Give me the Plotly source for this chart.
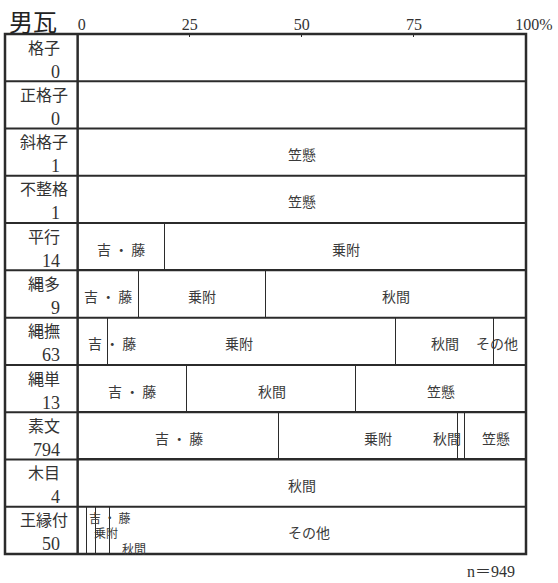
import plotly.graph_objects as go

# ---------------- data ----------------
rows = ["格子", "正格子", "斜格子", "不整格", "平行", "縄多", "縄撫", "縄単", "素文", "木目", "王縁付"]
counts = [0, 0, 1, 1, 14, 9, 63, 13, 794, 4, 50]
categories = ["吉・藤", "乗附", "秋間", "笠懸", "その他"]
yoshi_fuji = [None, None, None, None, 19.5, 13.7, 6.8, 24.4, 45.0, None, 2.1]
notsuke = [None, None, None, None, 80.5, 28.2, 64.1, None, 39.8, None, 2.1]
akima = [None, None, None, None, None, 58.1, 21.9, 37.7, 1.7, 100.0, 3.1]
kasakake = [None, None, 100.0, 100.0, None, None, None, 37.9, 13.5, None, None]
sonota = [None, None, None, None, None, None, 7.2, None, None, None, 92.7]
series = [yoshi_fuji, notsuke, akima, kasakake, sonota]
tick_vals = [0, 25, 50, 75, 100]
tick_text = ["\u20020", "25", "50", "75", "\u2003100%"]
total_n = 949
title = "男瓦"

# ---------------- layout helpers (positions/styles, not data) ----------------
display = {"吉・藤": "吉 ・ 藤", "乗附": "乗附", "秋間": "秋間", "笠懸": "笠懸", "その他": "その他"}
# label placement overrides: (row, category) -> (x in %, yshift px, font size)
label_override = {
    ("縄撫", "吉・藤"): (7.6, -2, 14),
    ("縄撫", "乗附"): (36.0, -2, 14),
    ("縄撫", "その他"): (93.5, -2, 14),
    ("素文", "乗附"): (67.0, -2, 14),
    ("素文", "秋間"): (82.3, -2, 14),
    ("王縁付", "吉・藤"): (7.0, 13, 12),
    ("王縁付", "乗附"): (6.3, -2, 12),
    ("王縁付", "秋間"): (12.6, -18, 12),
    ("王縁付", "その他"): (51.5, -2, 14),
}
LINE = "#2b2b2b"
TXT = "#3a3a3a"
SERIF = "Liberation Serif, DejaVu Serif, Noto Sans CJK JP"
CJK = "Noto Sans CJK JP"
LEFT = -16.2

fig = go.Figure()
ys = list(range(len(rows)))
for cat, vals in zip(categories, series):
    fig.add_trace(go.Bar(
        y=ys, x=vals, orientation="h", width=1, name=cat,
        marker=dict(color="white", line=dict(color=LINE, width=1.3)),
        hoverinfo="skip", showlegend=False,
    ))

annotations = []
# segment labels
for i, r in enumerate(rows):
    cum = 0.0
    for cat, vals in zip(categories, series):
        v = vals[i]
        if v is None:
            continue
        xc, ysh, fs = cum + v / 2, -2, 14
        if (r, cat) in label_override:
            xc, ysh, fs = label_override[(r, cat)]
        annotations.append(dict(x=xc, y=i, xref="x", yref="y", text=display[cat],
                                showarrow=False, yshift=ysh,
                                font=dict(family=CJK, size=fs, color=TXT)))
        cum += v
# row labels
for i, (r, c) in enumerate(zip(rows, counts)):
    annotations.append(dict(x=-7.5, y=i, xref="x", yref="y", text=r, showarrow=False,
                            yshift=11, font=dict(family=CJK, size=16, color="#333")))
    annotations.append(dict(x=-3.5, y=i, xref="x", yref="y", text=str(c), showarrow=False,
                            xanchor="right", yshift=-14,
                            font=dict(family=SERIF, size=18, color="#333")))
# title
annotations.append(dict(x=0, y=1, xref="paper", yref="paper", text=title, showarrow=False,
                        xanchor="left", yanchor="bottom", xshift=2, yshift=-4,
                        font=dict(family=SERIF, size=24, color="#222")))
# n
annotations.append(dict(x=98, y=0, xref="x", yref="paper", text=f"n＝{total_n}", showarrow=False,
                        xanchor="right", yanchor="top", yshift=-7,
                        font=dict(family=SERIF, size=16, color="#333")))

shapes = []
shapes.append(dict(type="rect", xref="paper", yref="paper", x0=0, x1=1, y0=0, y1=1,
                   line=dict(color=LINE, width=2.5)))
shapes.append(dict(type="line", xref="x", yref="paper", x0=0, x1=0, y0=0, y1=1,
                   line=dict(color=LINE, width=2.5)))
for k in range(len(rows) - 1):
    shapes.append(dict(type="line", xref="paper", yref="y", x0=0, x1=1, y0=k + 0.5, y1=k + 0.5,
                       line=dict(color=LINE, width=2)))

fig.update_layout(
    width=558, height=583, autosize=False,
    margin=dict(l=5, r=29, t=34, b=29),
    paper_bgcolor="white", plot_bgcolor="white",
    barmode="stack", bargap=0,
    xaxis=dict(range=[LEFT, 100], side="top", showgrid=False, zeroline=False, showline=False,
               tickvals=tick_vals, ticktext=tick_text, ticks="inside", ticklen=3,
               tickcolor=LINE, tickfont=dict(family=SERIF, size=16, color="#333"),
               fixedrange=True),
    yaxis=dict(range=[len(rows) - 0.5, -0.5], visible=False, fixedrange=True),
    annotations=annotations, shapes=shapes,
)

fig.write_html(
    "out.html",
    config={"displayModeBar": False},
    post_script="document.body.style.margin='0';document.body.style.overflow='hidden';",
)
